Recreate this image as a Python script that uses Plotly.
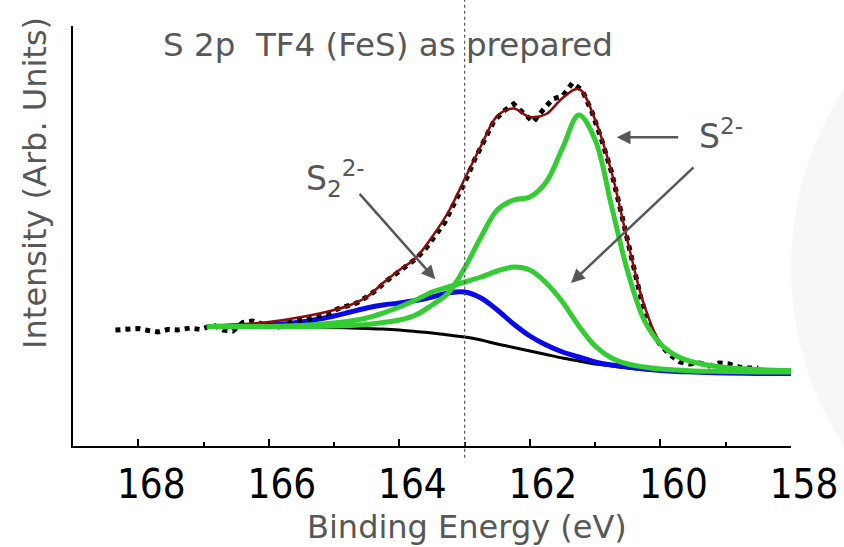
import plotly.graph_objects as go

# ---- data (Binding energy in eV, intensity in arbitrary units) ----
be_fit = [166.95, 166.5, 166.0, 165.5, 165.0, 164.75, 164.5, 164.25, 164.0, 163.75,
          163.5, 163.25, 163.0, 162.75, 162.5, 162.25, 162.0, 161.75, 161.5, 161.25,
          161.0, 160.75, 160.5, 160.25, 160.0, 159.75, 159.5, 159.0, 158.5, 158.0]

background = [119.5, 119.5, 119, 119, 118.5, 118, 117.5, 117, 116, 114.5,
              113, 111, 109, 106, 102, 98.5, 95, 91.5, 88, 85,
              82, 80, 78, 76.5, 75.5, 74.5, 74, 73.5, 73, 73]

s2_2minus = [119.5, 120, 121, 124, 130, 134, 138, 141, 143, 145.5,
             149, 153, 154, 148, 136, 122, 110, 101, 94, 89,
             84, 81, 79, 77, 75.5, 74.5, 74, 73, 72.5, 72.5]

s2minus_a = [119.5, 119.5, 119.5, 120.5, 123, 125, 128, 133, 139, 146,
             154, 159, 164, 169, 175, 179, 176, 163, 144, 120,
             100, 88, 82, 79, 77, 76, 75, 74.5, 74, 74]

s2minus_b = [119.5, 119.5, 119.5, 119.5, 120, 120.5, 121.5, 123.5, 126, 131,
             141, 153, 178, 209, 236, 246, 249, 264, 298, 331,
             306, 240, 174, 126, 102, 90, 84, 78.5, 76.5, 75.5]

envelope = [120, 121.5, 124, 129, 136, 141, 149, 163, 176, 188,
            209, 234, 267, 300, 330, 337.5, 329, 332, 348, 357,
            326, 274, 204, 141, 103, 90, 84, 79, 77, 76]

be_data = [168.35, 168.2, 168.0, 167.85, 167.7, 167.55, 167.4, 167.2, 167.05, 166.85,
           166.7, 166.55, 166.4, 166.25, 166.05, 165.85, 165.65, 165.45, 165.25, 165.1,
           164.95, 164.8, 164.65, 164.5, 164.35, 164.2, 164.05, 163.9, 163.75, 163.6,
           163.45, 163.3, 163.15, 163.0, 162.85, 162.7, 162.55, 162.4, 162.25, 162.1,
           161.95, 161.8, 161.65, 161.5, 161.35, 161.2, 161.05, 160.9, 160.75, 160.6,
           160.45, 160.3, 160.15, 160.0, 159.85, 159.7, 159.55, 159.4, 159.25, 159.1,
           158.95, 158.8, 158.65, 158.5]
intensity = [116, 117, 117.5, 115.5, 114, 116.5, 116, 118, 116.5, 121,
             116, 115, 123.5, 125, 121, 119, 125, 126, 129.5, 132,
             137, 140, 143, 149, 156, 165, 172, 180, 187, 197,
             210, 224, 244, 263, 286, 306, 325, 335, 342, 333,
             324, 336, 347, 350, 363, 356, 334, 306, 274, 233,
             188, 148, 116, 101, 91, 84, 82, 83, 80, 83,
             82, 79, 78, 78]

x_ticks = [168, 166, 164, 162, 160, 158]
ref_energy = 163.0

FONT = "DejaVu Sans, Verdana, sans-serif"
TICKFONT = "DejaVu Sans Condensed, DejaVu Sans, sans-serif"
GREY = "#575757"

fig = go.Figure()
fig.add_trace(go.Scatter(x=be_fit, y=background, mode="lines", line=dict(color="black", width=3, shape="spline"), name="Background"))
fig.add_trace(go.Scatter(x=be_fit, y=s2_2minus, mode="lines", line=dict(color="#0a0ae8", width=5, shape="spline"), name="S2 2-"))
fig.add_trace(go.Scatter(x=be_data, y=intensity, mode="lines", line=dict(color="black", width=5, dash="dot"), name="Data"))
fig.add_trace(go.Scatter(x=be_fit, y=envelope, mode="lines", line=dict(color="#8b0a0a", width=2.5, shape="spline"), name="Envelope"))
fig.add_trace(go.Scatter(x=be_fit, y=s2minus_a, mode="lines", line=dict(color="#33cc33", width=5, shape="spline"), name="S 2- a"))
fig.add_trace(go.Scatter(x=be_fit, y=s2minus_b, mode="lines", line=dict(color="#33cc33", width=5, shape="spline"), name="S 2- b"))

# faint watermark at the right edge
fig.add_shape(type="circle", xref="paper", yref="paper", x0=1.0, x1=1.9, y0=-0.35, y1=1.2,
              fillcolor="#f7f7f7", line=dict(width=0), layer="below")
fig.add_shape(type="line", xref="x", yref="paper", x0=ref_energy, x1=ref_energy, y0=-0.028, y1=1.07,
              line=dict(color="#555555", width=1.2, dash="dot"))

annotations = [
    dict(text="S 2p\u00a0\u00a0TF4 (FeS) as prepared", xref="paper", yref="paper", x=0.439, y=0.955,
         xanchor="center", yanchor="middle",
         showarrow=False, font=dict(size=32.5, color=GREY, family=FONT)),
    dict(text="Intensity (Arb. Units)", xref="paper", yref="paper", x=-0.054, y=0.627, textangle=-90,
         xanchor="center", yanchor="middle",
         showarrow=False, font=dict(size=32, color=GREY, family=FONT)),
    dict(text="Binding Energy (eV)", xref="paper", yref="paper", x=0.549, y=-0.193,
         xanchor="center", yanchor="middle",
         showarrow=False, font=dict(size=32, color=GREY, family=FONT)),
    dict(text="S<sub>2</sub><sup>2-</sup>", xref="paper", yref="paper", x=0.366, y=0.637,
         xanchor="center", yanchor="middle",
         showarrow=False, font=dict(size=33, color=GREY, family=FONT)),
    dict(text="S<sup>2-</sup>", xref="paper", yref="paper", x=0.903, y=0.742,
         xanchor="center", yanchor="middle",
         showarrow=False, font=dict(size=33, color=GREY, family=FONT)),
    dict(text="", x=163.45, y=166.7, xref="x", yref="y", ax=-77, ay=-87, axref="pixel", ayref="pixel",
         showarrow=True, arrowhead=2, arrowsize=1.1, arrowwidth=2.5, arrowcolor=GREY),
    dict(text="", x=161.37, y=163, xref="x", yref="y", ax=124, ay=-117, axref="pixel", ayref="pixel",
         showarrow=True, arrowhead=2, arrowsize=1.1, arrowwidth=2.5, arrowcolor=GREY),
    dict(text="", x=160.67, y=308.7, xref="x", yref="y", ax=63, ay=0, axref="pixel", ayref="pixel",
         showarrow=True, arrowhead=2, arrowsize=1.1, arrowwidth=2.5, arrowcolor=GREY),
]

fig.update_layout(
    width=844, height=547,
    margin=dict(l=73, r=53, t=26, b=101, autoexpand=False),
    paper_bgcolor="white", plot_bgcolor="rgba(0,0,0,0)",
    showlegend=False,
    annotations=annotations,
    font=dict(family=FONT),
)
fig.update_xaxes(range=[169, 158], tickvals=x_ticks, ticks="inside", ticklen=7, tickwidth=1.5,
                 tickcolor="black", showline=True, linecolor="black", linewidth=2, automargin=False,
                 showgrid=False, zeroline=False, ticklabelshift=-13, ticklabelstandoff=2,
                 tickfont=dict(size=40, color="black", family=TICKFONT),
                 minor=dict(dtick=1, tick0=158, ticks="inside", ticklen=4, tickwidth=1.5, tickcolor="black", showgrid=False))
fig.update_yaxes(range=[0, 420], showline=True, linecolor="black", linewidth=1.8, automargin=False,
                 showticklabels=False, ticks="", showgrid=False, zeroline=False)

fig.write_html("out.html")
